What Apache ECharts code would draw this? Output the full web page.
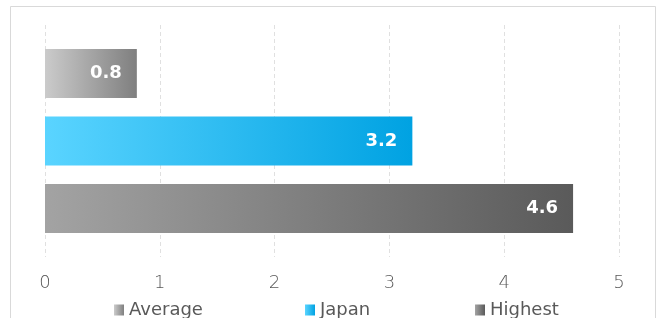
<!DOCTYPE html>
<html>
<head>
<meta charset="utf-8">
<script src="https://cdn.jsdelivr.net/npm/echarts@6/dist/echarts.min.js"></script>
<style>
  html, body { margin: 0; padding: 0; background: #fff; }
  #main { width: 662px; height: 318px; }
</style>
</head>
<body>
<div id="main"></div>
<script>
var categories = ["Score"];
var seriesNames = ["Average", "Japan", "Highest"];
var averageValues = [0.8];
var japanValues = [3.2];
var highestValues = [4.6];
var xTicks = [0, 1, 2, 3, 4, 5];

var myChart = echarts.init(document.getElementById("main"));
var fontFamily = "DejaVu Sans";

function grad(from, to) {
  return new echarts.graphic.LinearGradient(0, 0, 1, 0, [
    { offset: 0, color: from },
    { offset: 1, color: to },
  ]);
}

var barColors = [
  grad("#cbcbcb", "#7f7f7f"),
  grad("#5ad4ff", "#00a2e2"),
  grad("#a3a3a3", "#5a5a5a"),
];

function makeSeries(name, data, color) {
  return {
    name: name,
    type: "bar",
    data: data,
    barWidth: 49,
    barGap: "38%",
    itemStyle: { color: color },
    label: {
      show: true,
      position: "insideRight",
      distance: 15,
      formatter: "{c}",
      color: "#fff",
      fontWeight: "bold",
      fontSize: 18,
      fontFamily: fontFamily,
    },
  };
}

function legendAt(name, left) {
  return {
    data: [name],
    left: left,
    top: 301,
    icon: "rect",
    itemWidth: 10,
    itemHeight: 11,
    itemGap: 0,
    padding: 0,
    textStyle: {
      color: "#595959",
      fontSize: 18,
      fontFamily: fontFamily,
      padding: [0, 0, 0, 0],
    },
  };
}

myChart.setOption({
  animation: false,
  graphic: [
    {
      type: "rect",
      shape: { x: 10.5, y: 6.5, width: 645, height: 330 },
      style: { fill: "none", stroke: "#d9d9d9", lineWidth: 1 },
      silent: true,
    },
  ],
  legend: [
    legendAt("Average", 114),
    legendAt("Japan", 305),
    legendAt("Highest", 475),
  ],
  grid: {
    left: 45,
    right: 43,
    top: 25,
    bottom: 61,
    containLabel: false,
  },
  xAxis: {
    type: "value",
    min: xTicks[0],
    max: xTicks[xTicks.length - 1],
    interval: 1,
    axisLine: { show: false },
    axisTick: { show: false },
    axisLabel: {
      margin: 17,
      color: "#595959",
      fontSize: 18,
      fontFamily: fontFamily,
      fontWeight: "lighter",
    },
    splitLine: {
      show: true,
      lineStyle: { color: "#e0e0e0", width: 1, type: [4, 3] },
    },
  },
  yAxis: {
    type: "category",
    data: categories,
    axisLine: { show: false },
    axisTick: { show: false },
    axisLabel: { show: false },
  },
  series: [
    makeSeries(seriesNames[0], averageValues, barColors[0]),
    makeSeries(seriesNames[1], japanValues, barColors[1]),
    makeSeries(seriesNames[2], highestValues, barColors[2]),
  ],
});
</script>
</body>
</html>
